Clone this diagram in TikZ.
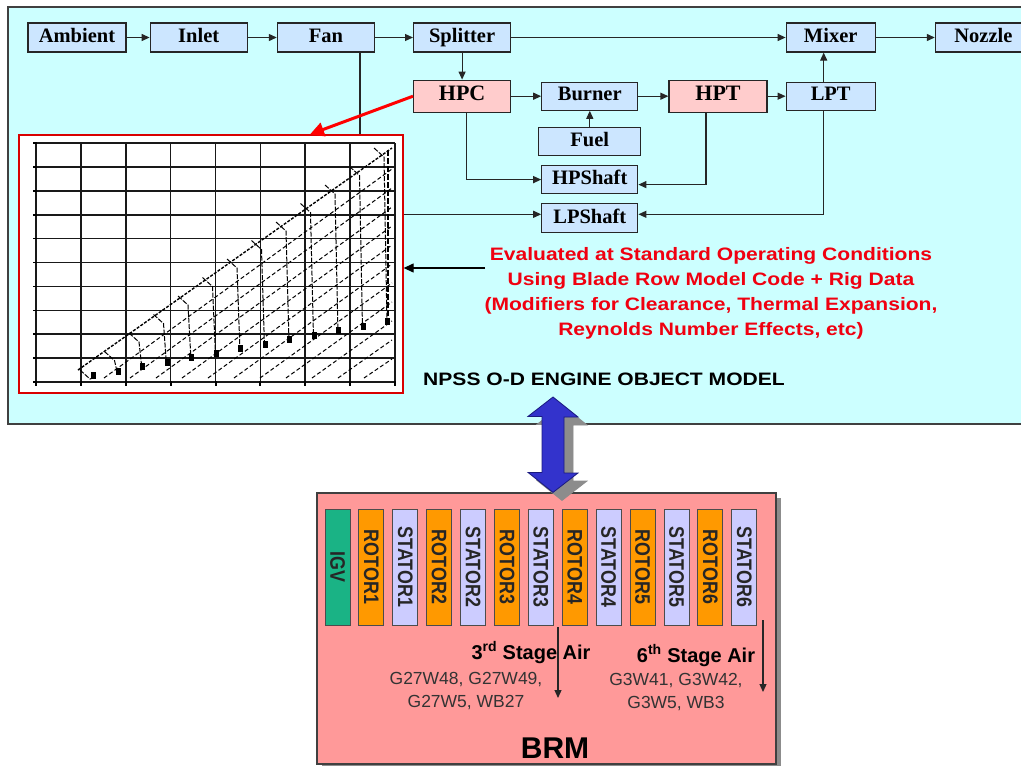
\documentclass[tikz,border=0pt]{standalone}
\usepackage{fontspec}
\setmainfont{Liberation Serif}
\setsansfont{Liberation Sans}
\newfontfamily\notefont{Liberation Sans}[FakeStretch=1.17]
\newfontfamily\bladefont{Liberation Sans}[FakeStretch=0.85]
\usepackage{tikz}
\usetikzlibrary{positioning,arrows.meta,calc,shadows}
\definecolor{npssCyan}{HTML}{CCFFFF}
\definecolor{npssBlue}{HTML}{CCE6FF}
\definecolor{npssPink}{HTML}{FFCCCC}
\definecolor{brmSalmon}{HTML}{FF9999}
\definecolor{rotorOrange}{HTML}{FF9900}
\definecolor{statorLilac}{HTML}{CCCCFF}
\definecolor{igvGreen}{HTML}{1AB385}
\definecolor{linkBlue}{HTML}{3333CC}
\definecolor{linkEdge}{HTML}{1A1A80}
\definecolor{linkShade}{HTML}{8C8C8C}
\definecolor{noteRed}{HTML}{F00010}
\definecolor{codeGray}{HTML}{333333}

\begin{document}
\begin{tikzpicture}[
  x=1pt, y=-1pt,
  comp/.style={rectangle, draw=black!85, line width=1.2pt, fill=npssBlue, minimum width=97pt,
               minimum height=29pt, inner sep=0pt, text height=14pt, text depth=4.5pt,
               font=\bfseries\fontsize{20.5}{20.5}\selectfont},
  hot/.style={comp, fill=npssPink, minimum height=32pt, font=\bfseries\fontsize{22}{22}\selectfont},
  flow/.style={-{Triangle[length=8pt,width=7pt]}, line width=1.2pt, draw=black!85},
  gridline/.style={line width=1.6pt, black!90},
  mapline/.style={line width=1pt, black, dash pattern=on 4pt off 2.5pt},
  blade/.style={rectangle, draw=black!70, line width=1pt, rotate=-90, minimum width=116pt,
                minimum height=25pt, inner sep=0pt, text=black!85,
                font=\bladefont\bfseries\fontsize{21}{21}\selectfont},
  stagetext/.style={font=\sffamily\bfseries\fontsize{20}{20}\selectfont, inner sep=0pt},
  codetext/.style={font=\sffamily\fontsize{17.5}{23}\selectfont, text=codeGray, inner sep=0pt, align=center}
]
  \clip (0,0) rectangle (1021,766);
  \fill[white] (0,0) rectangle (1021,766);

  % engine model panel
  \draw[line width=1.5pt, draw=black!75, fill=npssCyan] (8,7) rectangle (1030,424);

  \node[comp, minimum width=98pt] (ambient) at (77,37.5) {Ambient};
  \node[comp, right=23pt of ambient] (inlet) {Inlet};
  \node[comp, right=29pt of inlet] (fan) {Fan};
  \node[comp, right=38pt of fan] (splitter) {Splitter};
  \node[hot, below=27pt of splitter] (hpc) {HPC};
  \node[comp, right=30pt of hpc, minimum width=96pt, minimum height=28pt] (burner) {Burner};
  \node[hot, right=30pt of burner, minimum width=98pt] (hpt) {HPT};
  \node[comp, right=18pt of hpt, minimum width=89pt, minimum height=28pt] (lpt) {LPT};
  \node[comp, above=29pt of lpt, minimum width=89pt] (mixer) {Mixer};
  \node[comp, right=59pt of mixer, minimum width=96pt] (nozzle) {Nozzle};
  \node[comp, below=16pt of burner, minimum width=102pt, minimum height=28pt] (fuel) {Fuel};
  \node[comp, below=9pt of fuel, minimum width=96pt, minimum height=28pt] (hpshaft) {HPShaft};
  \node[comp, below=9pt of hpshaft, minimum width=96pt] (lpshaft) {LPShaft};

  \draw[flow] (ambient) -- (inlet);
  \draw[flow] (inlet) -- (fan);
  \draw[flow] (fan) -- (splitter);
  \draw[flow] (splitter) -- (mixer);
  \draw[flow] (mixer) -- (nozzle);
  \draw[flow] (splitter) -- (hpc);
  \draw[flow] (hpc) -- (burner);
  \draw[flow] (burner) -- (hpt);
  \draw[flow] (hpt) -- (lpt);
  \draw[flow] (fuel) -- (burner);
  \draw[flow] ([xshift=-7pt]lpt.north) -- ([xshift=-7pt]mixer.south);
  \draw[flow] ([xshift=4pt]hpc.south) |- (hpshaft.west);
  \draw[flow] ([xshift=-12pt]hpt.south) |- ([yshift=-5pt]hpshaft.east);
  \draw[flow] ([xshift=-7pt]lpt.south) |- ([yshift=4pt]lpshaft.east);
  \draw[flow] ([xshift=34pt]fan.south) |- ([yshift=4pt]lpshaft.west);

  % loss map
  \node[rectangle, draw=red!85!black, line width=1.3pt, fill=white, minimum width=384pt,
        minimum height=258pt, inner sep=0pt] (chart) at (211,264) {};
  \foreach \gx in {0,...,8}
    \draw[gridline] ({36+44.875*\gx},143) -- ++(0,239);
  \foreach \gy in {0,...,10}
    \draw[gridline] (36,{143+23.9*\gy}) -- (395,{143+23.9*\gy});
  \foreach \gy in {0,...,10}
    \draw[line width=1.6pt] (33,{143+23.9*\gy}) -- ++(4,0);
  \foreach \gx in {0,...,8}
    \draw[line width=2pt] ({36+44.875*\gx},381) -- ++(0,5);
  \draw[mapline, line width=1.4pt, dash pattern=on 3pt off 1.5pt] (78,370) -- (392,148);
  \foreach \m in {1,...,11}
    \draw[mapline] ({78+26*\m},378) -- (392,{150+19*\m});
  \foreach \k in {0,...,12} {
    \pgfmathsetmacro\sx{80+24.5*\k}
    \pgfmathsetmacro\sy{370-18.5*\k}
    \pgfmathsetmacro\ey{378-4.5*\k}
    \draw[line width=1pt, dash pattern=on 5pt off 1.5pt] (\sx,\sy) -- ++(10,9) -- ({\sx+13},\ey);
    \fill ({\sx+11},{\ey-6}) rectangle ++(5,7);
  }
  \draw[line width=2pt, dash pattern=on 6pt off 2pt] (388,150) -- (388,325);

  \draw[red, line width=3pt, -{Triangle[length=14pt,width=14pt]}] (hpc.west) -- ([xshift=99pt]chart.north);

  \node[font=\notefont\bfseries\fontsize{18}{25}\selectfont, text=noteRed, align=center, anchor=base] (note)
    at (711,335) {Evaluated at Standard Operating Conditions\\Using Blade Row Model Code + Rig Data\\(Modifiers for Clearance, Thermal Expansion,\\Reynolds Number Effects, etc)};
  \coordinate (notetail) at (485,268);
  \draw[line width=1.2pt, -{Triangle[length=10pt,width=9pt]}] (notetail) -- (chart.east |- notetail);

  \node[font=\notefont\bfseries\fontsize{18}{18}\selectfont, anchor=base west, inner sep=0pt] (npsslabel)
    at (423,385) {NPSS O-D ENGINE OBJECT MODEL};

  % blade row model
  \node[rectangle, draw=black!75, line width=1.2pt, fill=brmSalmon, minimum width=459pt, minimum height=271pt,
        drop shadow={shadow xshift=5pt, shadow yshift=-5pt, fill=black!45, opacity=1}] (brm) at (546.5,628.5) {};

  \coordinate (linktop) at (553,397);
  \coordinate (linkbot) at ([xshift=6.5pt]brm.north);
  \foreach \sx/\sy/\fillcol/\edgecol in {9/8/linkShade/linkShade, 0/0/linkBlue/linkEdge}
    \filldraw[fill=\fillcol, draw=\edgecol, line width=0.8pt] ($(linktop)+(\sx,\sy)$) -- ++(25,20) -- ++(-14,0)
      -- ++(0,56) -- ++(14,0) -- ($(linkbot)+(\sx,\sy)$) -- ++(-25,-20) -- ++(14,0) -- ++(0,-56) -- ++(-14,0) -- cycle;

  \foreach \lbl/\col [count=\i from 0] in {IGV/igvGreen, ROTOR1/rotorOrange, STATOR1/statorLilac,
      ROTOR2/rotorOrange, STATOR2/statorLilac, ROTOR3/rotorOrange, STATOR3/statorLilac,
      ROTOR4/rotorOrange, STATOR4/statorLilac, ROTOR5/rotorOrange, STATOR5/statorLilac,
      ROTOR6/rotorOrange, STATOR6/statorLilac}
    \node[blade, fill=\col] (row\i) at ({337.5+33.9*\i},567) {\lbl};

  \coordinate (bleed3) at (558,627);
  \coordinate (bleed6) at (763,620);
  \draw[flow] (bleed3) -- ++(0,71);
  \draw[flow] (bleed6) -- ++(0,72);

  \node[stagetext, anchor=base] (air3) at (531,659) {3\textsuperscript{rd} Stage Air};
  \node[stagetext, anchor=base] (air6) at (696,662) {6\textsuperscript{th} Stage Air};
  \node[codetext, anchor=base] (codes3) at (466,707) {G27W48, G27W49,\\G27W5, WB27};
  \node[codetext, anchor=base] (codes6) at (676,708) {G3W41, G3W42,\\G3W5, WB3};

  \node[font=\sffamily\bfseries\fontsize{30}{30}\selectfont, anchor=base, inner sep=0pt] (brmlabel) at (555,758) {BRM};
\end{tikzpicture}
\end{document}
